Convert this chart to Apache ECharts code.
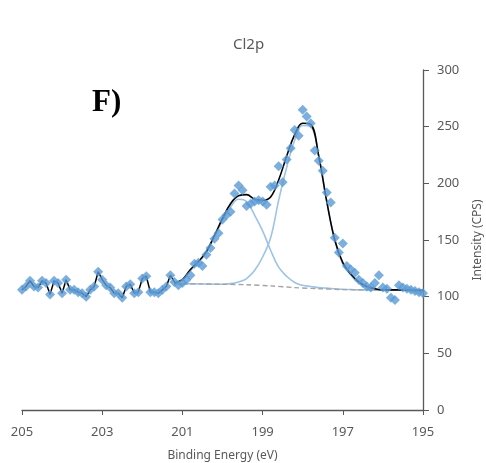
<!DOCTYPE html>
<html>
<head>
<meta charset="utf-8">
<script src="https://cdn.jsdelivr.net/npm/echarts@6/dist/echarts.min.js"></script>
<style>
  html, body { margin: 0; padding: 0; background: #fff; }
  #main { width: 486px; height: 463px; }
</style>
</head>
<body>
<div id="main"></div>
<script>
// measured points (binding energy, counts)
var energy = [205.0, 204.9, 204.8, 204.7, 204.6, 204.5, 204.4, 204.3, 204.2, 204.1,
  204.0, 203.9, 203.8, 203.7, 203.6, 203.5, 203.4, 203.3, 203.2, 203.1,
  203.0, 202.9, 202.8, 202.7, 202.6, 202.5, 202.4, 202.3, 202.2, 202.1,
  202.0, 201.9, 201.8, 201.7, 201.6, 201.5, 201.4, 201.3, 201.2, 201.1,
  201.0, 200.9, 200.8, 200.7, 200.6, 200.5, 200.4, 200.3, 200.2, 200.1,
  200.0, 199.9, 199.8, 199.7, 199.6, 199.5, 199.4, 199.3, 199.2, 199.1,
  199.0, 198.9, 198.8, 198.7, 198.6, 198.5, 198.4, 198.3, 198.2, 198.1,
  198.0, 197.9, 197.8, 197.7, 197.6, 197.5, 197.4, 197.3, 197.2, 197.1,
  197.0, 196.9, 196.8, 196.7, 196.6, 196.5, 196.4, 196.3, 196.2, 196.1,
  196.0, 195.9, 195.8, 195.7, 195.6, 195.5, 195.4, 195.3, 195.2, 195.1, 195.0];
var counts = [106, 109, 114, 109, 108, 114, 112, 102, 114, 112,
  103, 115, 106, 106, 104, 103, 100, 106, 109, 122,
  115, 110, 108, 103, 103, 99, 109, 111, 103, 104,
  116, 118, 104, 104, 103, 106, 109, 119, 113, 110,
  112, 115, 119, 129, 130, 127, 137, 143, 151, 156,
  168, 172, 175, 191, 198, 194, 180, 182, 184, 185,
  184, 181, 197, 198, 215, 201, 221, 231, 247, 242,
  265, 259, 253, 229, 220, 211, 192, 183, 152, 139,
  147, 127, 124, 121, 115, 112, 109, 108, 112, 119,
  108, 107, 99, 97, 110, 108, 107, 106, 105, 104, 103];

// fitted curves, read on a 0.2 eV grid
var fitEnergy = [201.2, 201.0, 200.8, 200.6, 200.4, 200.2, 200.0, 199.8, 199.6, 199.4,
  199.2, 199.0, 198.8, 198.6, 198.4, 198.2, 198.0, 197.8, 197.6, 197.4,
  197.2, 197.0, 196.8, 196.6, 196.4, 196.2, 196.0, 195.8, 195.6, 195.4, 195.2, 195.0];
var envelope = [112, 115, 124, 131, 140, 154, 169, 182, 189, 190,
  186, 185, 188, 203, 224, 243, 253, 252, 224, 184,
  150, 130, 120, 113, 109, 107, 106, 106, 106, 105.8, 105.6, 105.5];
var peakA = [112, 115, 123, 130, 139, 153, 167, 179, 186, 184,
  172, 158, 141, 126, 118, 112.5, 110, 109, 108, 107.5,
  107, 106.5, 106.3, 106, 106, 105.9, 105.8, 105.7, 105.6, 105.6, 105.5, 105.5];
var peakB = [111.5, 111.4, 111.3, 111.2, 111.1, 111, 111, 111.5, 113, 116,
  123, 135, 152, 185, 214, 238, 251, 250, 224, 184,
  150, 129, 119, 112, 108.5, 107, 106, 105.8, 105.7, 105.6, 105.5, 105.5];
var baseEnergy = [201.2, 200.6, 200.0, 199.4, 198.8, 198.2, 197.6, 197.0, 196.4, 195.8, 195.0];
var baseline = [111.5, 111.3, 111, 110.5, 109.5, 108, 107, 106.3, 106, 105.8, 105.5];

var xTicks = [205, 203, 201, 199, 197, 195];

function pairs(xs, ys) {
  var out = [];
  for (var i = 0; i < xs.length; i++) out.push([xs[i], ys[i]]);
  return out;
}

var points = pairs(energy, counts);
// outside the fit window the envelope just follows the data
var trace = points.filter(function (p) { return p[0] >= 201.2; });

var textGray = '#595959';
var font = 'Noto Sans';

var chart = echarts.init(document.getElementById('main'));
chart.setOption({
  animation: false,
  title: {
    text: 'Cl2p',
    left: 228,
    top: 32,
    textStyle: { fontFamily: font, fontSize: 15, fontWeight: 'normal', color: textGray }
  },
  graphic: [{
    type: 'text',
    left: 92,
    top: 87,
    style: { text: 'F)', font: 'bold 31px "Liberation Serif"', fill: '#000' }
  }],
  grid: { left: 22, right: 63, top: 70, bottom: 53, outerBoundsMode: 'none' },
  xAxis: {
    type: 'value',
    inverse: true,
    min: 195,
    max: 205,
    interval: 2,
    name: 'Binding Energy (eV)',
    nameLocation: 'middle',
    nameGap: 40,
    nameTextStyle: { fontFamily: font, fontSize: 12, color: textGray },
    axisLine: { lineStyle: { color: '#595959', width: 1.3 } },
    axisTick: { length: 5, lineStyle: { color: '#595959' } },
    axisLabel: {
      margin: 16, fontFamily: font, fontSize: 13, color: textGray,
      formatter: function (v) { return xTicks.indexOf(v) >= 0 ? String(v) : ''; }
    },
    splitLine: { show: false }
  },
  yAxis: {
    type: 'value',
    position: 'right',
    min: 0,
    max: 300,
    interval: 50,
    name: 'Intensity (CPS)',
    nameLocation: 'middle',
    nameRotate: 90,
    nameGap: 49,
    nameTextStyle: { fontFamily: font, fontSize: 12, color: textGray },
    axisLine: { show: true, lineStyle: { color: '#595959', width: 1.3 } },
    axisTick: { show: true, length: 6, lineStyle: { color: '#595959' } },
    axisLabel: { margin: 14, fontFamily: font, fontSize: 13, color: textGray },
    splitLine: { show: false }
  },
  series: [
    {
      name: 'peak A', type: 'line', data: pairs(fitEnergy, peakA),
      smooth: 0.4, showSymbol: false, z: 1,
      lineStyle: { color: '#9DC3E6', width: 1.6 }
    },
    {
      name: 'peak B', type: 'line', data: pairs(fitEnergy, peakB),
      smooth: 0.4, showSymbol: false, z: 1,
      lineStyle: { color: '#9DC3E6', width: 1.6 }
    },
    {
      name: 'background', type: 'line', data: pairs(baseEnergy, baseline),
      smooth: 0.3, showSymbol: false, z: 2,
      lineStyle: { color: '#A5A5A5', width: 1.4, type: [5, 3] }
    },
    {
      name: 'trace', type: 'line', data: trace,
      showSymbol: false, z: 3,
      lineStyle: { color: '#000', width: 1.5 }
    },
    {
      name: 'envelope', type: 'line', data: pairs(fitEnergy, envelope),
      smooth: 0.4, showSymbol: false, z: 3,
      lineStyle: { color: '#000', width: 1.6 }
    },
    {
      name: 'data', type: 'scatter', data: points,
      symbol: 'diamond', symbolSize: 10, z: 4,
      itemStyle: { color: '#5B9BD5' }
    }
  ]
});
</script>
</body>
</html>
